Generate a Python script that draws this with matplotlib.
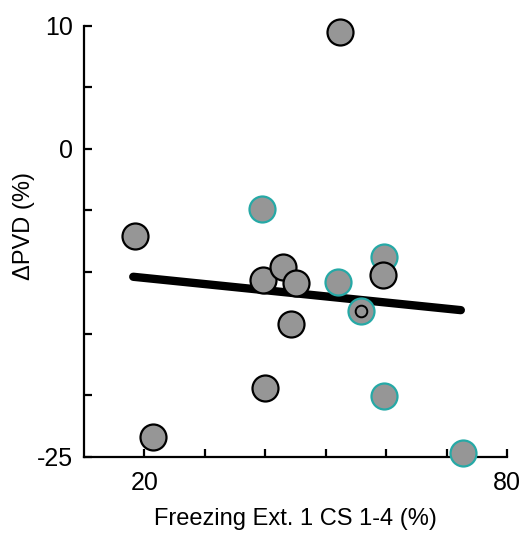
import matplotlib
matplotlib.use("Agg")
import matplotlib.pyplot as plt

# Data
black_x = [52.4, 18.4, 39.6, 42.9, 45.0, 59.5, 44.3, 40.0, 21.4]
black_y = [9.5, -7.1, -10.66, -9.58, -10.88, -10.25, -14.2, -19.4, -23.4]
cyan_x = [39.4, 59.7, 52.05, 55.9, 59.6, 72.7]
cyan_y = [-4.9, -8.8, -10.85, -13.2, -20.06, -24.7]
inner_x = [55.9]
inner_y = [-13.2]
fit_x = [18.14, 72.36]
fit_y = [-10.39, -13.1]

xticks = [20, 30, 40, 50, 60, 70, 80]
xticklabels = ["20", "", "", "", "", "", "80"]
yticks = [10, 5, 0, -5, -10, -15, -20, -25]
yticklabels = ["10", "", "0", "", "", "", "", "-25"]

plt.rcParams["font.family"] = ["Liberation Sans", "DejaVu Sans"]

fig = plt.figure(figsize=(5.32, 5.34), dpi=100)
ax = fig.add_axes([0.158, 0.1448, 0.795, 0.8071])

ax.plot(fit_x, fit_y, color="black", lw=6, solid_capstyle="round", zorder=2)

grey = "#969696"
teal = "#26a9a6"
ax.scatter(cyan_x, cyan_y, s=350, facecolor=grey, edgecolor=teal, linewidth=1.6, zorder=3, clip_on=False)
ax.scatter(black_x, black_y, s=350, facecolor=grey, edgecolor="black", linewidth=1.6, zorder=4, clip_on=False)
ax.scatter(inner_x, inner_y, s=70, facecolor=grey, edgecolor="black", linewidth=1.4, zorder=5, clip_on=False)

ax.set_xlim(10, 80)
ax.set_ylim(-25, 10)
ax.set_xticks(xticks)
ax.set_xticklabels(xticklabels)
ax.set_yticks(yticks)
ax.set_yticklabels(yticklabels)

for s in ["top", "right"]:
    ax.spines[s].set_visible(False)
for s in ["left", "bottom"]:
    ax.spines[s].set_linewidth(1.6)
ax.tick_params(direction="in", length=6, width=1.6, labelsize=18)
ax.tick_params(axis="x", pad=10)
ax.tick_params(axis="y", pad=8)

ax.set_xlabel("Freezing Ext. 1 CS 1-4 (%)", fontsize=17, labelpad=10)
ax.set_ylabel("ΔPVD (%)", fontsize=17)
ax.yaxis.set_label_coords(-0.115, 0.535)

fig.savefig("out.png", dpi=100)
